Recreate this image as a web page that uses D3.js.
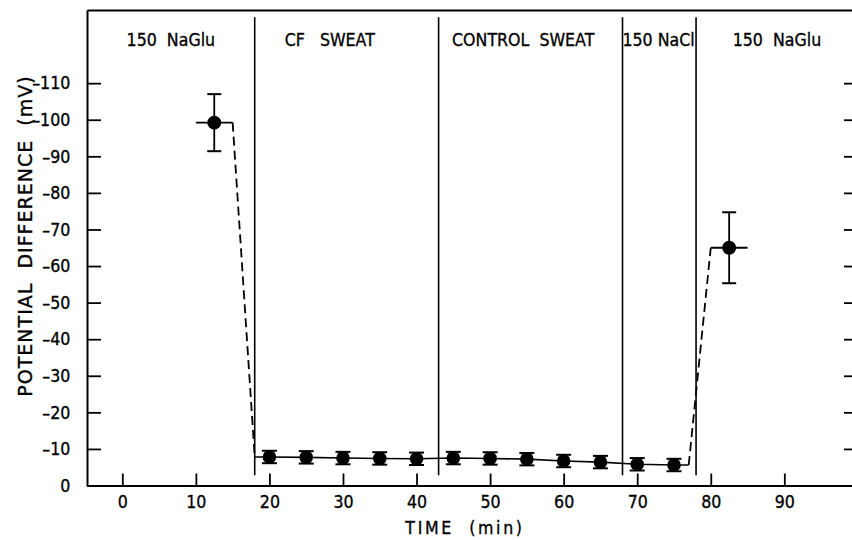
<!DOCTYPE html>
<html><head><meta charset="utf-8">
<script src="https://cdn.jsdelivr.net/npm/d3@7"></script>
<style>
html,body{margin:0;padding:0;background:#fff;}
svg{display:block;font-family:"DejaVu Sans",sans-serif;}
</style></head><body>
<svg id="chart" width="852" height="540"></svg>
<script>
// ---- data ----
const xTickValues = [0, 10, 20, 30, 40, 50, 60, 70, 80, 90];
const xTickLabels = ["0", "10", "20", "30", "40", "50", "60", "70", "80", "90"];
const yTickValues = [0, -10, -20, -30, -40, -50, -60, -70, -80, -90, -100, -110];
const yTickLabels = ["0", "–10", "–20", "–30", "–40", "–50", "–60", "–70", "–80", "–90", "–100", "–110"];

const segmentBounds = [18, 43, 68, 78];
const segmentLabels = ["150  NaGlu", "CF   SWEAT", "CONTROL  SWEAT", "150 NaCl", "150  NaGlu"];
const segmentLabelTimes = [6.6, 28.2, 54.5, 72.9, 89];

const sweatTimes  = [20, 25, 30, 35, 40, 45, 50, 55, 60, 65, 70, 75];
const sweatValues = [-7.8, -7.7, -7.5, -7.4, -7.3, -7.5, -7.4, -7.2, -6.7, -6.4, -5.8, -5.6];
const sweatErrors = [1.7, 1.7, 1.7, 1.7, 1.7, 1.7, 1.7, 1.7, 1.7, 1.7, 1.7, 1.7];
const sweatLineStart = 18;
const sweatLineEnd = 77;

const gluTimes  = [12.5, 82.5];
const gluValues = [-99.2, -65];
const gluErrors = [7.8, 9.7];
const gluSpanStart = [10, 80];
const gluSpanEnd   = [15, 85];

const transitionFrom = [[15, -99.2], [77, -5.6]];
const transitionTo   = [[18, -7.8], [80, -65]];

// ---- layout ----
(function () {
const svg = d3.select("#chart");
const mLeft = 87, mRight = 852, mTop = 10, mBottom = 485.5;
const sx = 0.88; // horizontal squeeze for lettering-style text
const x = d3.scaleLinear().domain([-4.8, 99.2]).range([mLeft, mRight]);
const y = d3.scaleLinear().domain([0, -130]).range([mBottom, mTop]);

const gx = svg.append("g").attr("transform", `translate(0,${mBottom})`)
  .call(d3.axisBottom(x).tickValues(xTickValues).tickFormat((d, i) => xTickLabels[i])
    .tickSizeInner(-12).tickSizeOuter(0).tickPadding(10));
const gy = svg.append("g").attr("transform", `translate(${mLeft},0)`)
  .call(d3.axisLeft(y).tickValues(yTickValues).tickFormat((d, i) => yTickLabels[i])
    .tickSizeInner(-14).tickSizeOuter(0).tickPadding(19));
const gr = svg.append("g").attr("transform", `translate(${mRight},0)`)
  .call(d3.axisRight(y).tickValues(yTickValues.slice(1)).tickFormat("")
    .tickSizeInner(-8).tickSizeOuter(0));
gr.select(".domain").remove();
const gt = svg.append("g").attr("transform", `translate(0,${mTop})`)
  .call(d3.axisTop(x).tickValues([]).tickSizeOuter(0));

[gx, gy, gr, gt].forEach(g => {
  g.select(".domain").attr("stroke", "#000").attr("stroke-width", 2);
  g.selectAll(".tick line").attr("stroke", "#000").attr("stroke-width", 1.8);
  g.selectAll(".tick text").attr("fill", "#000").attr("font-size", 18)
    .attr("font-family", "DejaVu Sans, sans-serif")
    .attr("stroke", "#000").attr("stroke-width", 0.35)
    .attr("transform", `scale(${sx},1)`);
});

svg.append("g").selectAll("line").data(segmentBounds).join("line")
  .attr("x1", d => x(d)).attr("x2", d => x(d))
  .attr("y1", y(-128)).attr("y2", y(-2.8))
  .attr("stroke", "#000").attr("stroke-width", 1.6);

svg.append("g").selectAll("text").data(segmentLabels).join("text")
  .attr("transform", (d, i) => `translate(${x(segmentLabelTimes[i])},46) scale(${sx},1)`)
  .attr("text-anchor", "middle").attr("font-size", 18)
  .attr("stroke", "#000").attr("stroke-width", 0.35)
  .style("white-space", "pre").text(d => d);

svg.append("g").selectAll("line").data(transitionFrom).join("line")
  .attr("x1", d => x(d[0])).attr("y1", d => y(d[1]))
  .attr("x2", (d, i) => x(transitionTo[i][0])).attr("y2", (d, i) => y(transitionTo[i][1]))
  .attr("stroke", "#000").attr("stroke-width", 1.8).attr("stroke-dasharray", "9,5");

const linePts = [[sweatLineStart, sweatValues[0]]]
  .concat(sweatTimes.map((t, i) => [t, sweatValues[i]]))
  .concat([[sweatLineEnd, sweatValues[sweatValues.length - 1]]]);
svg.append("path").datum(linePts)
  .attr("d", d3.line().x(d => x(d[0])).y(d => y(d[1])))
  .attr("fill", "none").attr("stroke", "#000").attr("stroke-width", 1.6);

svg.append("g").selectAll("line").data(gluTimes).join("line")
  .attr("x1", (d, i) => x(gluSpanStart[i])).attr("x2", (d, i) => x(gluSpanEnd[i]))
  .attr("y1", (d, i) => y(gluValues[i])).attr("y2", (d, i) => y(gluValues[i]))
  .attr("stroke", "#000").attr("stroke-width", 1.8);

function drawPoints(times, values, errors, r, cap) {
  const g = svg.append("g");
  const pts = times.map((t, i) => ({t, v: values[i], e: errors[i]}));
  const eb = g.selectAll("g.eb").data(pts).join("g").attr("class", "eb");
  eb.append("line").attr("x1", d => x(d.t)).attr("x2", d => x(d.t))
    .attr("y1", d => y(d.v - d.e)).attr("y2", d => y(d.v + d.e))
    .attr("stroke", "#000").attr("stroke-width", 1.8);
  eb.append("line").attr("x1", d => x(d.t) - cap / 2).attr("x2", d => x(d.t) + cap / 2)
    .attr("y1", d => y(d.v - d.e)).attr("y2", d => y(d.v - d.e))
    .attr("stroke", "#000").attr("stroke-width", 2);
  eb.append("line").attr("x1", d => x(d.t) - cap / 2).attr("x2", d => x(d.t) + cap / 2)
    .attr("y1", d => y(d.v + d.e)).attr("y2", d => y(d.v + d.e))
    .attr("stroke", "#000").attr("stroke-width", 2);
  eb.append("circle").attr("cx", d => x(d.t)).attr("cy", d => y(d.v)).attr("r", r)
    .attr("fill", "#000");
}
drawPoints(sweatTimes, sweatValues, sweatErrors, 6.8, 15);
drawPoints(gluTimes, gluValues, gluErrors, 7, 14);

svg.append("text").attr("transform", `translate(465,534) scale(${sx},1)`)
  .attr("text-anchor", "middle")
  .attr("font-size", 18).attr("letter-spacing", 3).style("white-space", "pre")
  .attr("stroke", "#000").attr("stroke-width", 0.35)
  .text("TIME  (min)");
svg.append("text").attr("transform", `translate(32,236) rotate(-90)`)
  .attr("text-anchor", "middle").attr("font-size", 19).attr("letter-spacing", 1)
  .attr("stroke", "#000").attr("stroke-width", 0.35)
  .style("white-space", "pre").text("POTENTIAL  DIFFERENCE  (mV)");
})();
</script>
</body></html>
